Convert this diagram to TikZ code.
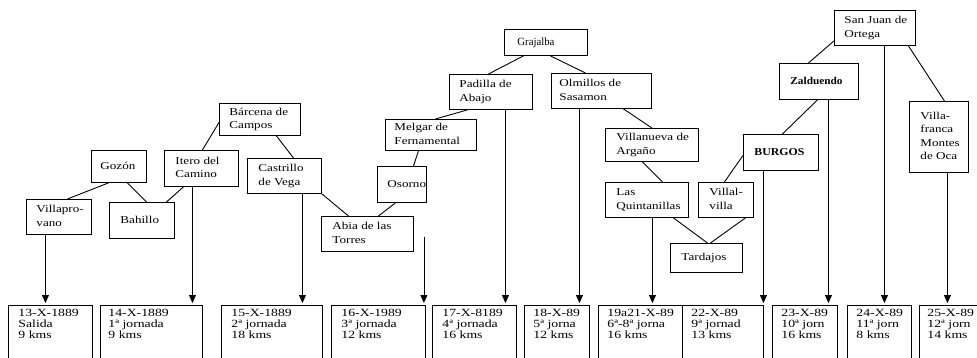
\documentclass[tikz,border=0pt]{standalone}
\usepackage{fontspec}
\setmainfont{Liberation Serif}[FakeStretch=1.25]
\usepackage{graphicx}
\usetikzlibrary{arrows.meta}
\newcommand\bxt[3]{\makebox[#1pt][l]{\hspace*{#2pt}\begin{tabular}{@{}l@{}}#3\end{tabular}}}
\newcommand\bbt[3]{\makebox[#1pt][l]{\hspace*{#2pt}\begin{tabular}[t]{@{}l@{}}#3\end{tabular}}}
\newcommand\drop[3]{\draw[arr] ([xshift=#3pt]#1.south) -- ([xshift=#3pt]#1.south |- #2.north);}
\tikzset{
  place/.style={draw, line width=0.9pt, anchor=north west, inner xsep=0pt, inner ysep=1pt,
    font=\fontsize{10.5}{13.5}\selectfont},
  day/.style={draw, line width=0.9pt, anchor=north west, inner xsep=0pt, inner ysep=3pt,
    text height=8pt, text depth=60pt, font=\fontsize{11}{11}\selectfont},
  link/.style={line width=0.9pt},
  arr/.style={line width=0.8pt, -{Triangle[width=7pt,length=8pt]}, shorten >=2pt},
}
\begin{document}
\begin{tikzpicture}[x=1pt,y=-1pt]
\useasboundingbox (0,0) rectangle (977,358);
\clip (0,0) rectangle (977,358);
% place boxes
\node[place, minimum height=35pt] (vill) at (26,199) {\bxt{65}{10}{Villapro-\\vano}};
\node[place, minimum height=32pt] (gozon) at (91,150) {\bxt{55}{9}{Gozón}};
\node[place, minimum height=36pt] (bahillo) at (109,202) {\bxt{65}{11}{Bahillo}};
\node[place, minimum height=36pt] (itero) at (164,150) {\bxt{74}{11}{Itero del\\Camino}};
\node[place, minimum height=32pt] (barcena) at (219,103) {\bxt{81}{10}{Bárcena de\\Campos}};
\node[place, minimum height=35pt] (castrillo) at (247,158) {\bxt{74}{11}{Castrillo\\de Vega}};
\node[place, minimum height=35pt] (abia) at (321,216) {\bxt{92}{11}{Abia de las\\Torres}};
\node[place, minimum height=36pt] (osorno) at (377,166) {\bxt{49}{10}{Osorno}};
\node[place, minimum height=31pt] (melgar) at (385,119) {\bxt{91}{9}{Melgar de\\Fernamental}};
\node[place, minimum height=35pt] (padilla) at (449,74) {\bxt{83}{10}{Padilla de\\Abajo}};
\node[place, minimum height=26pt] (grajalba) at (504,29) {\bxt{83}{13}{\scalebox{0.82}[1.05]{Grajalba}}};
\node[place, minimum height=35pt] (olmillos) at (551,73) {\bxt{100}{8}{Olmillos de\\Sasamon}};
\node[place, minimum height=33pt] (villanueva) at (605,128) {\bxt{93}{11}{Villanueva de\\Argaño}};
\node[place, minimum height=35pt] (quint) at (605,182) {\bxt{83}{11}{Las\\Quintanillas}};
\node[place, minimum height=35pt] (villalvilla) at (698,182) {\bxt{55}{11}{Villal-\\villa}};
\node[place, minimum height=29pt] (tardajos) at (670,243) {\bxt{72}{11}{Tardajos}};
\node[place, minimum height=36pt] (burgos) at (743,134) {\bxt{75}{11}{\scalebox{0.9}[1]{\textbf{BURGOS}}}};
\node[place, minimum height=36pt] (zalduendo) at (779,63) {\bxt{79}{11}{\scalebox{0.86}[1]{\textbf{Zalduendo}}}};
\node[place, minimum height=35pt] (sanjuan) at (834,10) {\bxt{81}{10}{San Juan de\\Ortega}};
\node[place, minimum height=71pt] (villafranca) at (909,101) {\bxt{59}{11}{Villa-\\franca\\Montes\\de Oca}};
% day boxes
\node[day] (b1) at (8,305) {\bbt{84}{10}{13-X-1889\\Salida\\9 kms}};
\node[day] (b2) at (100,305) {\bbt{102}{8}{14-X-1889\\1ª jornada\\9 kms}};
\node[day] (b3) at (221,305) {\bbt{101}{10}{15-X-1889\\2ª jornada\\18 kms}};
\node[day] (b4) at (331,305) {\bbt{94}{10}{16-X-1989\\3ª jornada\\12 kms}};
\node[day] (b5) at (432,305) {\bbt{84}{10}{17-X-8189\\4ª jornada\\16 kms}};
\node[day] (b6) at (524,305) {\bbt{65}{9}{18-X-89\\5ª jorna\\12 kms}};
\node[day] (b7) at (598,305) {\bbt{84}{9}{19a21-X-89\\6ª-8ª jorna\\16 kms}};
\node[day] (b8) at (682,305) {\bbt{81}{9}{22-X-89\\9ª jornad\\13 kms}};
\node[day] (b9) at (772,305) {\bbt{65}{9}{23-X-89\\10ª jorn\\16 kms}};
\node[day] (b10) at (847,305) {\bbt{64}{9}{24-X-89\\11ª jorn\\8 kms}};
\node[day] (b11) at (919,305) {\bbt{62}{8}{25-X-89\\12ª jorn\\14 kms}};
% links
\draw[link] ([xshift=-10.5pt]gozon.south) -- ([xshift=8.5pt]vill.north);
\draw[link] ([xshift=8.5pt]gozon.south) -- ([xshift=4.5pt]bahillo.north);
\draw[link] ([xshift=-18pt]itero.south) -- ([xshift=24.5pt]bahillo.north);
\draw[link] ([yshift=-3pt]barcena.west) -- ([xshift=1pt]itero.north);
\draw[link] ([xshift=16.5pt]barcena.south) -- ([xshift=9pt]castrillo.north);
\draw[link] (castrillo.south east) -- ([xshift=-19pt]abia.north);
\draw[link] ([xshift=-6.5pt]osorno.south) -- ([xshift=11pt]abia.north);
\draw[link] ([xshift=-12.5pt]melgar.south) -- ([xshift=11.5pt]osorno.north);
\draw[link] ([xshift=-23.5pt]padilla.south) -- ([xshift=4.5pt]melgar.north);
\draw[link] ([xshift=-22.5pt]grajalba.south) -- ([xshift=-2.5pt]padilla.north);
\draw[link] ([xshift=4.5pt]grajalba.south) -- ([xshift=-16pt]olmillos.north);
\draw[link] ([xshift=22pt]olmillos.south) -- (villanueva.north);
\draw[link] ([xshift=-9.5pt]villanueva.south) -- ([xshift=15.5pt]quint.north);
\draw[link] ([xshift=26.5pt]quint.south) -- ([xshift=1pt]tardajos.north);
\draw[link] ([xshift=19.5pt]villalvilla.south) -- ([xshift=4pt]tardajos.north);
\draw[link] ([yshift=-3pt]burgos.west) -- ([xshift=-1.5pt]villalvilla.north);
\draw[link] ([xshift=-1.5pt]zalduendo.south) -- ([xshift=1.5pt]burgos.north);
\draw[link] ([yshift=5pt]sanjuan.south west) -- ([xshift=-10.5pt]zalduendo.north);
\draw[link] ([xshift=33.5pt]sanjuan.south) -- ([xshift=5.5pt]villafranca.north);
% drops
\drop{vill}{b1}{-13.5}
\drop{itero}{b2}{-9}
\drop{castrillo}{b3}{18}
\coordinate (a4) at ([xshift=10pt,yshift=-21pt]abia.north east);
\draw[arr] (a4) -- (a4 |- b4.north);
\drop{padilla}{b5}{14.5}
\drop{olmillos}{b6}{-22}
\drop{quint}{b7}{5.5}
\drop{burgos}{b8}{-17.5}
\drop{zalduendo}{b9}{9.5}
\drop{sanjuan}{b10}{9.5}
\drop{villafranca}{b11}{8.5}
\end{tikzpicture}
\end{document}
